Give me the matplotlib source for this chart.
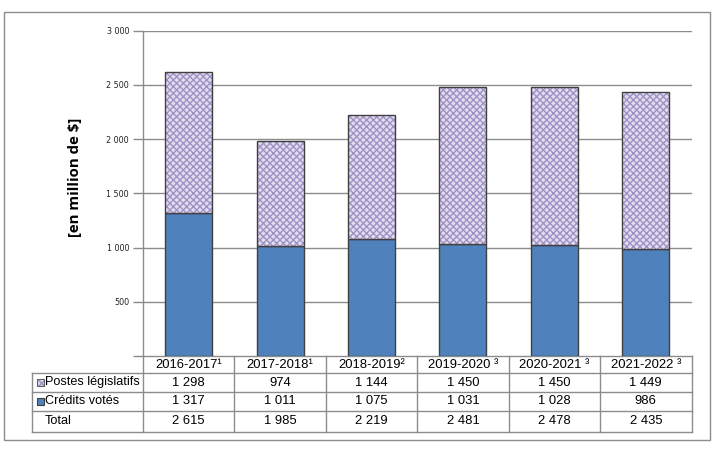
import matplotlib
matplotlib.use("Agg")
import matplotlib.pyplot as plt
from matplotlib.patches import Rectangle
import numpy as np

years = ["2016-2017¹", "2017-2018¹", "2018-2019²", "2019-2020 ³", "2020-2021 ³", "2021-2022 ³"]
postes = [1298, 974, 1144, 1450, 1450, 1449]
credits = [1317, 1011, 1075, 1031, 1028, 986]
totals = [2615, 1985, 2219, 2481, 2478, 2435]
row_labels = ["Postes législatifs", "Crédits votés", "Total"]
yticks = [500, 1000, 1500, 2000, 2500, 3000]

def fmt(v):
    return f"{v:,}".replace(",", " ")

W, H = 721, 453
fig = plt.figure(figsize=(W / 100, H / 100), dpi=100)
plt.rcParams['font.family'] = ['Liberation Sans', 'DejaVu Sans']
plt.rcParams['hatch.linewidth'] = 1.0

# outer frame
fig.patches.append(Rectangle((4 / W, 1 - 440 / H), 706 / W, 428 / H, transform=fig.transFigure,
                             fill=False, edgecolor='#8c8c8c', linewidth=1))

ax_l, ax_r, ax_t, ax_b = 143, 691.5, 30.7, 356
ax = fig.add_axes([ax_l / W, 1 - ax_b / H, (ax_r - ax_l) / W, (ax_b - ax_t) / H])
axw, axh = ax_r - ax_l, ax_b - ax_t

x = np.arange(len(years))
bw = 0.515
blue = '#4f81bd'
edge = '#404040'
grid_c = '#8c8c8c'
hatch_face = '#e2dcee'
hatch_col = '#9f92c6'

for y in yticks:
    ax.axhline(y, color=grid_c, linewidth=1, zorder=0)

ax.bar(x, credits, bw, color=blue, edgecolor=edge, linewidth=1, zorder=3)
ax.bar(x, postes, bw, bottom=credits, color=hatch_face, edgecolor=hatch_col,
       hatch='xxxxx', linewidth=0, zorder=3)
ax.bar(x, postes, bw, bottom=credits, fill=False, edgecolor=edge, linewidth=1, zorder=4)

ax.set_xlim(-0.5, len(years) - 0.5)
ax.set_ylim(0, 3000)
ax.set_yticks([0] + yticks)
ax.set_yticklabels([""] + [fmt(v) for v in yticks], fontsize=5.8, family='DejaVu Sans', color='#222222')
ax.tick_params(axis='y', direction='out', length=7, width=1, color=grid_c, pad=3)
ax.set_xticks([])
for s in ['top', 'right', 'bottom']:
    ax.spines[s].set_visible(False)
ax.spines['left'].set_color(grid_c)
ax.spines['left'].set_linewidth(1)

fig.text(75 / W, 1 - 177 / H, "[en million de $]", rotation=90, ha='center', va='center',
         fontsize=10.8, fontweight='bold', family=['Open Sans', 'DejaVu Sans'])

# table (axes coordinates)
def ay(py):
    return (ax_b - py) / axh

def axx(px):
    return (px - ax_l) / axw

line_kw = dict(color=grid_c, linewidth=1, transform=ax.transAxes, clip_on=False)
row_y = [356, 373.3, 391.7, 411, 431.7]
lab_left = 32.3
n = len(years)
ax.plot([0, 1], [ay(row_y[0])] * 2, **line_kw)
for py in row_y[1:]:
    ax.plot([axx(lab_left), 1], [ay(py)] * 2, **line_kw)
for i in range(n + 1):
    ax.plot([i / n] * 2, [ay(row_y[0]), ay(row_y[-1])], **line_kw)
ax.plot([axx(lab_left)] * 2, [ay(row_y[1]), ay(row_y[-1])], **line_kw)

fs = 9.4
for i, yr in enumerate(years):
    ax.text((i + 0.5) / n, ay((row_y[0] + row_y[1]) / 2), yr, transform=ax.transAxes,
            ha='center', va='center', fontsize=fs, clip_on=False)
rows = [postes, credits, totals]
for r, vals in enumerate(rows):
    yc = ay((row_y[r + 1] + row_y[r + 2]) / 2)
    for i, v in enumerate(vals):
        ax.text((i + 0.5) / n, yc, fmt(v), transform=ax.transAxes, ha='center', va='center',
                fontsize=fs, clip_on=False)
    tx = 45.3 if r < 2 else 44.5
    ax.text(axx(tx), yc, row_labels[r], transform=ax.transAxes, ha='left', va='center',
            fontsize=9.1, clip_on=False)

# legend keys
ks = 6.5
for r in range(2):
    yc = (row_y[r + 1] + row_y[r + 2]) / 2
    x0, y0 = axx(37), ay(yc + ks / 2)
    w, h = ks / axw, ks / axh
    if r == 0:
        ax.add_patch(Rectangle((x0, y0), w, h, transform=ax.transAxes, clip_on=False,
                               facecolor=hatch_face, edgecolor=hatch_col, hatch='xxxx', linewidth=0))
        ax.add_patch(Rectangle((x0, y0), w, h, transform=ax.transAxes, clip_on=False,
                               fill=False, edgecolor='#606060', linewidth=0.8))
    else:
        ax.add_patch(Rectangle((x0, y0), w, h, transform=ax.transAxes, clip_on=False,
                               facecolor=blue, edgecolor='#404040', linewidth=0.8))

fig.savefig("out.png", dpi=100)
